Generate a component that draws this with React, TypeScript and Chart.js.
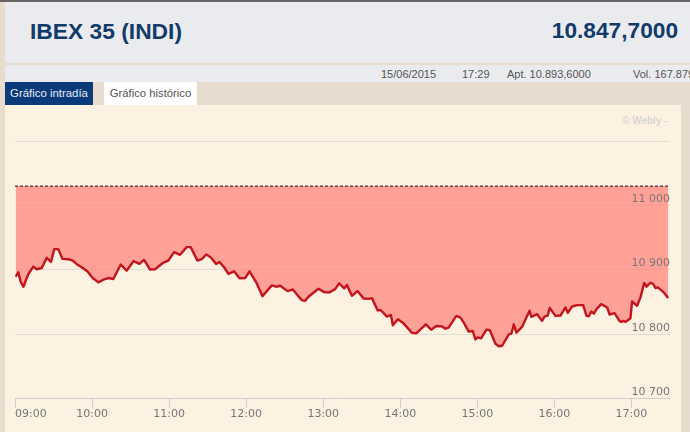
import React, { useRef, useEffect } from 'react';
import { Chart, registerables } from 'chart.js';

Chart.register(...registerables);

// minutos desde las 09:00
const minutes = [
  0.5, 2.6, 4.4, 6.5, 10.4, 14.3, 16.9, 20.8, 24.7, 28, 30.6, 33.7, 36.9, 41.5, 44.9, 48.5, 51.9, 56.3,
  60.5, 64.9, 68.8, 72.7, 76.6, 82.3, 87, 92.2, 96.9, 100.5, 105.2, 109, 115.6, 119.4, 123.9, 128.5, 133.7, 136.8,
  142, 145.4, 148.8, 152.4, 156.6, 159.2, 162.8, 166.2, 170.6, 174.8, 179.2, 182.6, 187.8, 192.7, 200, 203.3, 206.5, 212.2,
  216.3, 223.3, 225.9, 228.5, 236.3, 240.7, 244.6, 249.3, 252.4, 256.3, 258.4, 262.3, 266.7, 271.4, 275.3, 277.9, 282.3, 284.9,
  289.6, 292.7, 294.2, 298.1, 302.5, 309, 312.4, 319.9, 324.1, 328, 332.4, 335, 337.6, 343.6, 346.8, 349.4,
  353.3, 356.4, 358.5, 360.3, 362.9, 367.1, 369.7, 374.1, 376.7, 379.3, 384.5, 386.5, 388.4, 390.4, 394.8, 400.6,
  402.1, 406.5, 410.4, 412.2, 414.8, 416.4, 420.8, 424.7, 428.6, 430.4, 433.8, 437.7, 442.4, 445, 446.8, 448.6,
  450.7, 452.8, 456.4, 461.1, 462.9, 466.8, 470.7, 472, 473.5, 475.4, 479.2, 480.5, 484.4, 487, 489.9, 491.7,
  494.8, 496.9, 498.7, 500.5, 505.2, 508.6,
];
const prices = [
  10889.5, 10896.3, 10881.7, 10873.9, 10893.7, 10905.1, 10901, 10903, 10918.7, 10912.4, 10932.2, 10932.2, 10917.1, 10916.6, 10914.5, 10908.3, 10904.1, 10897.8,
  10887.4, 10880.7, 10884.8, 10887.4, 10885.9, 10908.3, 10898.9, 10913.5, 10909.3, 10915.5, 10900.4, 10901, 10911.4, 10914.5, 10927.5, 10923.4, 10935.3, 10935.3,
  10914.5, 10916.6, 10923.9, 10919.7, 10909.3, 10912.4, 10904.1, 10893.7, 10897.8, 10886.9, 10887.4, 10897.8, 10880.7, 10859.3, 10876, 10873.9, 10875.4, 10867.1,
  10869.7, 10853, 10852, 10858.3, 10870.8, 10865.5, 10865, 10870.2, 10879.1, 10871.3, 10876.5, 10859.8, 10867.1, 10855.7, 10855.1, 10856.2, 10837.4, 10837.4,
  10827.5, 10830.1, 10814, 10823.4, 10817.1, 10802.5, 10801.5, 10815.6, 10807.2, 10812.9, 10812.4, 10808.8, 10810.3, 10828.6, 10826, 10818.2,
  10804.2, 10805.2, 10792.2, 10795.3, 10793.8, 10807.3, 10806.3, 10785.4, 10781.3, 10782.3, 10800, 10801, 10815.6, 10802.6, 10811.5, 10836.5,
  10827.1, 10831.3, 10820.9, 10827.6, 10829.2, 10841.1, 10828.7, 10829.2, 10841.7, 10833.3, 10843.2, 10845.3, 10845.3, 10828.7, 10828.1, 10835.4,
  10832.3, 10839.1, 10846.9, 10841.7, 10830.8, 10832.8, 10820.8, 10819.3, 10820.8, 10819.3, 10825, 10851, 10844.3, 10857.3, 10879.7, 10874,
  10880.2, 10878.1, 10871.9, 10872.9, 10865.1, 10856.3,
];
const refLevel = 11030;
const xEnd = 510;
const hourLabels = ['09:00', '10:00', '11:00', '12:00', '13:00', '14:00', '15:00', '16:00', '17:00'];
const priceTicks = [10700, 10800, 10900, 11000, 11100];

const sans = 'Arial, "Liberation Sans", sans-serif';

export default function App() {
  const chartRef = useRef<HTMLCanvasElement | null>(null);

  useEffect(() => {
    document.body.style.margin = '0';
    if (!chartRef.current) return;
    const chart = new Chart(chartRef.current, {
      type: 'line',
      data: {
        datasets: [
          {
            data: minutes.map((m, i) => ({ x: m, y: prices[i] })),
            borderColor: '#c4141c',
            borderWidth: 2.4,
            borderJoinStyle: 'round',
            pointRadius: 0,
            tension: 0,
            fill: { value: refLevel },
            backgroundColor: 'rgba(255,130,120,0.72)',
            order: 1,
          },
          {
            data: [{ x: 0, y: refLevel }, { x: xEnd, y: refLevel }],
            borderColor: '#111',
            borderWidth: 1,
            borderDash: [3, 2],
            pointRadius: 0,
            fill: false,
            order: 0,
          },
        ],
      },
      options: {
        responsive: false,
        animation: false,
        layout: { padding: { top: 141, left: 15, right: 20, bottom: 11 } },
        plugins: { legend: { display: false }, tooltip: { enabled: false } },
        scales: {
          x: {
            type: 'linear',
            min: 0,
            max: xEnd,
            afterBuildTicks: (axis: any) => {
              // último tick vacío: así "inner" solo desplaza la etiqueta de las 09:00
              axis.ticks = [...hourLabels.map((_, i) => ({ value: i * 60 })), { value: xEnd }];
            },
            border: { display: false },
            grid: {
              drawOnChartArea: false,
              drawTicks: true,
              tickLength: 9,
              color: (ctx: any) => (ctx.tick && ctx.tick.value === xEnd ? 'rgba(0,0,0,0)' : '#cfcfcf'),
            },
            ticks: {
              autoSkip: false,
              maxRotation: 0,
              align: 'inner',
              padding: 0,
              color: '#777',
              font: { family: '"DejaVu Sans"', size: 11 },
              callback: (v: any) => (v === xEnd ? '' : hourLabels[Math.round(v / 60)]),
            },
          },
          y: {
            position: 'right',
            min: 10700,
            max: 11100,
            afterBuildTicks: (axis: any) => {
              axis.ticks = priceTicks.map((value) => ({ value }));
            },
            border: { display: false },
            grid: {
              drawTicks: false,
              color: (ctx: any) => (ctx.tick && ctx.tick.value === 10700 ? '#cfcfcf' : '#e3ddd4'),
            },
            ticks: {
              mirror: true,
              padding: 0,
              z: 1,
              color: '#777',
              font: { family: '"DejaVu Sans"', size: 11 },
              // segunda línea vacía: sube la etiqueta por encima de la rejilla
              callback: (v: any) => (v === 11100 ? '' : [String(v).slice(0, 2) + ' ' + String(v).slice(2), '']),
            },
          },
        },
      },
    } as any);
    return () => chart.destroy();
  }, []);

  const rowText = (left: number, text: string) => (
    <span style={{ position: 'absolute', left, top: 68, fontSize: 11, color: '#555', whiteSpace: 'nowrap' }}>{text}</span>
  );

  return (
    <div style={{ position: 'relative', width: 690, height: 432, overflow: 'hidden', background: '#e8dccf', fontFamily: sans }}>
      <div style={{ position: 'absolute', left: 0, top: 0, width: 690, height: 2, background: '#666' }} />
      <div style={{ position: 'absolute', left: 5, top: 2, width: 685, height: 61, background: '#e9ebee' }} />
      <div style={{ position: 'absolute', left: 5, top: 65, width: 685, height: 17, background: '#e9ebee' }} />
      <span style={{ position: 'absolute', left: 30, top: 18, fontSize: 22.8, fontWeight: 'bold', color: '#123a6b' }}>IBEX 35 (INDI)</span>
      <span style={{ position: 'absolute', right: 12, top: 17, fontSize: 22.7, fontWeight: 'bold', color: '#123a6b' }}>10.847,7000</span>
      {rowText(381, '15/06/2015')}
      {rowText(462, '17:29')}
      {rowText(507, 'Apt. 10.893,6000')}
      {rowText(633, 'Vol. 167.879')}
      <div style={{ position: 'absolute', left: 5, top: 82, width: 88, height: 23, background: '#0b3a7a', color: '#e8edf4', fontSize: 11.4, lineHeight: '23px', textAlign: 'center' }}>Gráfico intradía</div>
      <div style={{ position: 'absolute', left: 104, top: 82, width: 93, height: 23, background: '#fff', color: '#555', fontSize: 11.3, lineHeight: '23px', textAlign: 'center' }}>Gráfico histórico</div>
      <div style={{ position: 'absolute', left: 5, top: 105, width: 676, height: 327, background: '#fdf1e2' }} />
      <span style={{ position: 'absolute', left: 622, top: 115, fontSize: 10, fontWeight: 'bold', color: '#d9d6d0' }}>© Webly -</span>
      <canvas ref={chartRef} width={690} height={432} style={{ position: 'absolute', left: 0, top: 0, display: 'block' }} />
    </div>
  );
}
